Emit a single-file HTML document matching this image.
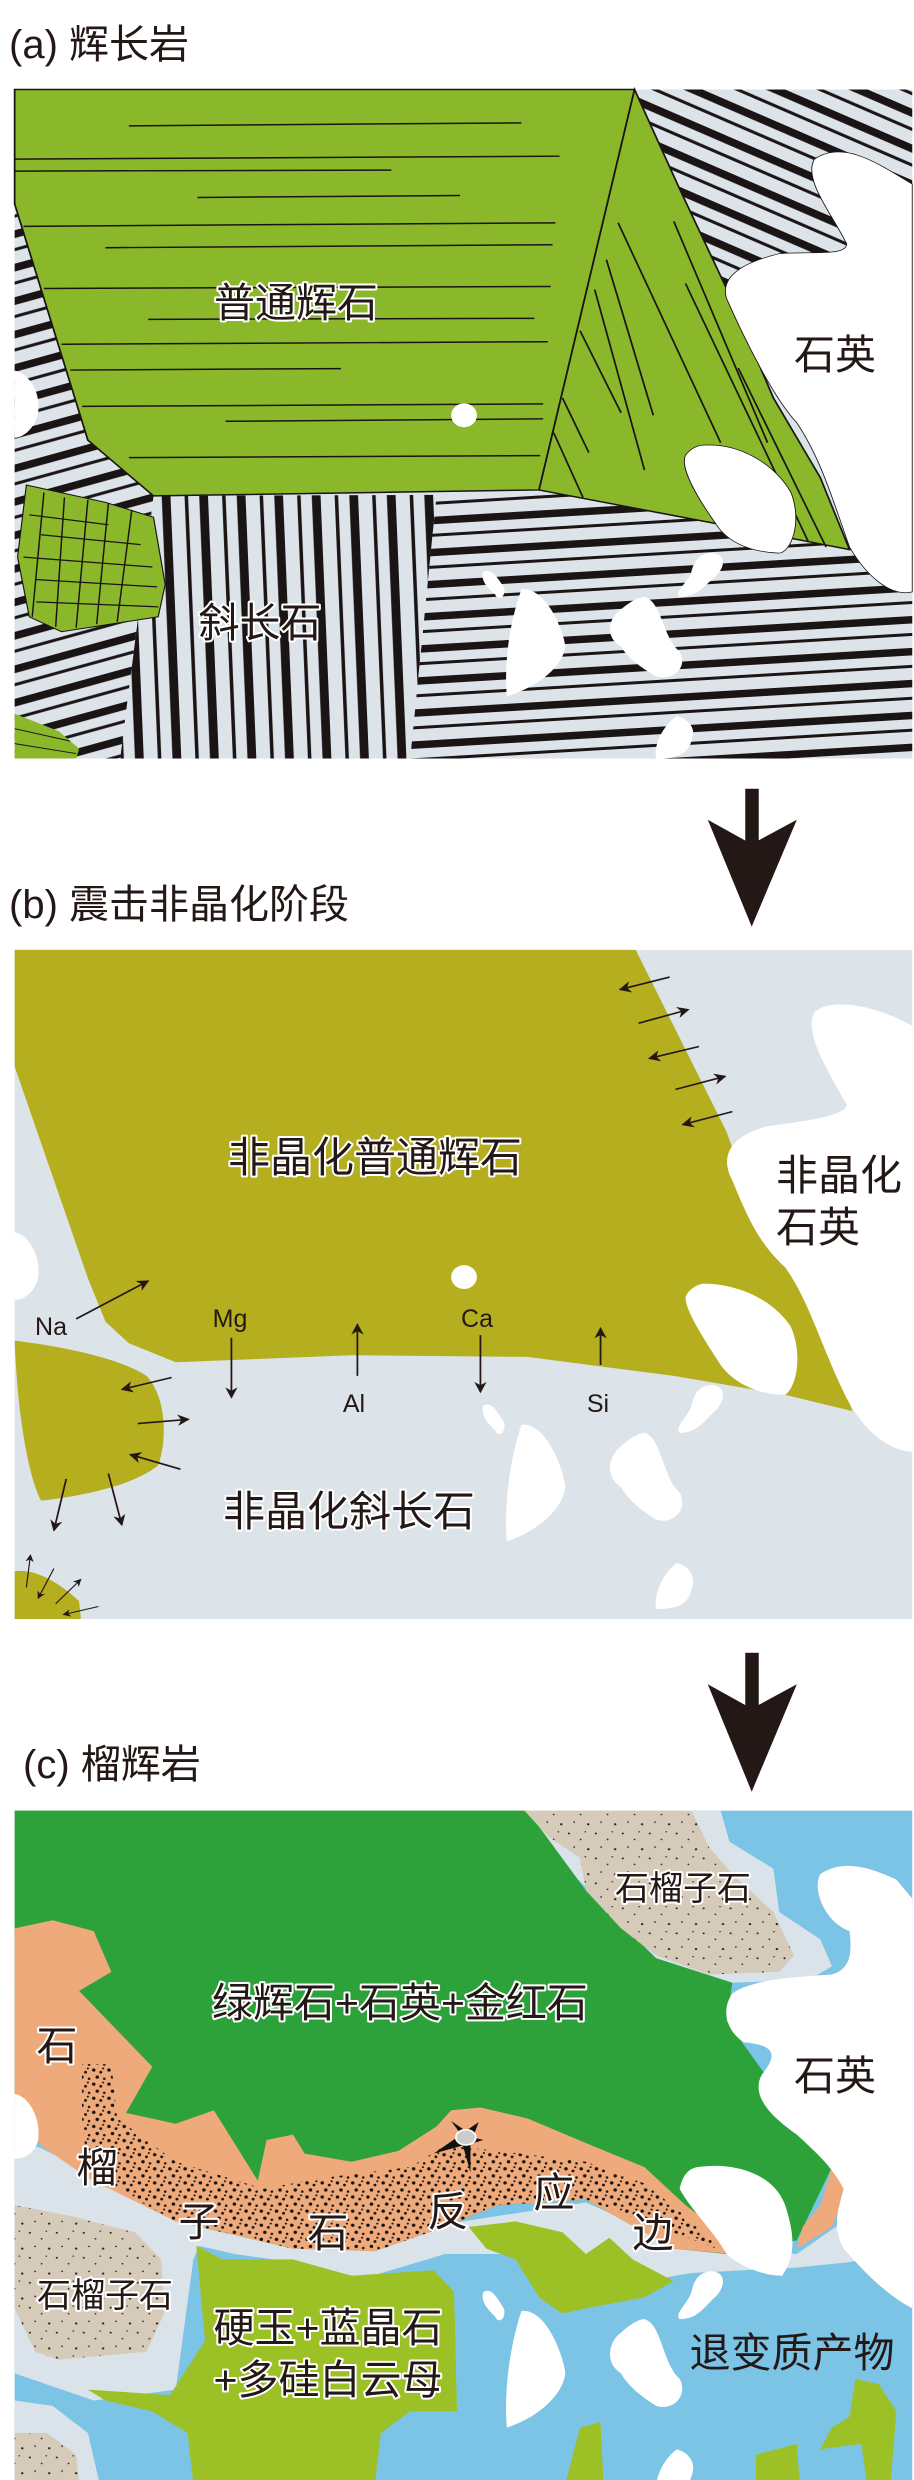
<!DOCTYPE html>
<html><head><meta charset="utf-8"><style>
html,body{margin:0;padding:0;background:#fff;}
svg{display:block;}
text{font-family:"Liberation Sans","Noto Sans CJK SC",sans-serif;fill:#231815;}
.h{stroke:#fff;stroke-width:4;paint-order:stroke;stroke-linejoin:round;}
</style></head><body>
<svg width="914" height="2480" viewBox="0 0 914 2480" xmlns="http://www.w3.org/2000/svg">
<defs>
<pattern id="st" patternUnits="userSpaceOnUse" width="200" height="64">
<rect width="200" height="64" fill="#dce4ea"/>
<rect y="0" width="200" height="15" fill="#1a1414"/>
<rect y="34" width="200" height="6" fill="#1a1414"/>
</pattern>
<pattern id="s1" href="#st" patternTransform="rotate(27)"/>
<pattern id="s2" href="#st" patternTransform="rotate(-4)"/>
<pattern id="s3" href="#st" patternTransform="rotate(88)"/>
<pattern id="s4" href="#st" patternTransform="rotate(-18)"/>
<pattern id="gd" patternUnits="userSpaceOnUse" width="46" height="46">
<circle cx="5" cy="7" r="1.8" fill="#222"/><circle cx="25" cy="18" r="1.5" fill="#222"/><circle cx="38" cy="36" r="2" fill="#222"/><circle cx="14" cy="32" r="1.5" fill="#222"/><circle cx="33" cy="4" r="1.3" fill="#222"/>
</pattern>
<pattern id="bd" patternUnits="userSpaceOnUse" width="26" height="26">
<circle cx="4" cy="5" r="3" fill="#111"/><circle cx="16" cy="9" r="2.5" fill="#111"/><circle cx="10" cy="18" r="3" fill="#111"/><circle cx="22" cy="21" r="2.2" fill="#111"/><circle cx="20" cy="2" r="1.8" fill="#111"/>
</pattern>
<marker id="ar" viewBox="0 0 10 10" refX="9" refY="5" markerWidth="7" markerHeight="7" orient="auto"><path d="M0,0 L10,5 L0,10 L3,5Z" fill="#231815"/></marker>
<g id="blobs">
<path d="M825,1150 C840,1140 850,1165 860,1180 C865,1200 850,1210 845,1195 C830,1180 820,1165 825,1150Z" fill="#fff"/>
<path d="M890,1185 C930,1180 960,1260 965,1300 C960,1340 920,1380 865,1400 C860,1330 870,1250 890,1185Z" fill="#fff"/>
<path d="M1100,1200 C1130,1210 1130,1280 1160,1310 C1175,1340 1150,1370 1120,1360 C1090,1340 1070,1320 1060,1300 C1030,1280 1040,1240 1060,1225 C1075,1210 1090,1200 1100,1200Z" fill="#fff"/>
<path d="M1210,1112 C1240,1110 1240,1140 1220,1160 C1200,1180 1190,1200 1160,1200 C1150,1190 1175,1170 1180,1150 C1185,1125 1195,1115 1210,1112Z" fill="#fff"/>
<path d="M1155,1440 C1175,1445 1190,1465 1180,1490 C1175,1510 1165,1525 1120,1525 C1115,1500 1130,1460 1155,1440Z" fill="#fff"/>
</g>
</defs>

<!-- PANEL A shapes -->
<g transform="scale(0.5859,0.4974)">
<rect x="25" y="180" width="1532" height="1345" fill="#dce4ea"/>
<polygon points="1083,180 1557,180 1557,600 1240,600 1160,380" fill="url(#s1)"/>
<polygon points="745,995 920,985 1210,1050 1450,1105 1557,1190 1557,1525 700,1525" fill="url(#s2)"/>
<polygon points="262,997 745,995 700,1525 205,1525" fill="url(#s3)"/>
<polygon points="25,410 150,885 262,997 205,1525 25,1525" fill="url(#s4)"/>
<polygon points="25,180 1083,180 920,985 262,997 150,885 25,410" fill="#8ab82a" stroke="#1a1414" stroke-width="3"/>
<polygon points="1083,180 1160,380 1240,580 1320,800 1400,960 1450,1105 1210,1050 920,985" fill="#8ab82a" stroke="#1a1414" stroke-width="3"/>
<g stroke="#1a1414" stroke-width="3">
<line x1="220" y1="253" x2="890" y2="247"/><line x1="25" y1="320" x2="955" y2="314"/><line x1="25" y1="344" x2="668" y2="342"/>
<line x1="337" y1="397" x2="785" y2="393"/><line x1="40" y1="455" x2="948" y2="448"/><line x1="180" y1="498" x2="943" y2="492"/>
<line x1="75" y1="580" x2="940" y2="576"/><line x1="253" y1="642" x2="912" y2="640"/><line x1="105" y1="692" x2="935" y2="687"/>
<line x1="120" y1="744" x2="582" y2="741"/><line x1="140" y1="817" x2="927" y2="812"/><line x1="385" y1="847" x2="927" y2="842"/>
<line x1="220" y1="920" x2="922" y2="916"/>
<line x1="1055" y1="448" x2="1230" y2="890"/><line x1="1035" y1="522" x2="1115" y2="835"/><line x1="1015" y1="582" x2="1100" y2="945"/>
<line x1="990" y1="665" x2="1060" y2="830"/><line x1="960" y1="800" x2="1005" y2="910"/><line x1="945" y1="870" x2="995" y2="1000"/>
<line x1="1150" y1="445" x2="1310" y2="890"/><line x1="1170" y1="570" x2="1380" y2="1090"/><line x1="1260" y1="740" x2="1410" y2="1100"/>
</g>
<path d="M1557,370 C1500,330 1440,280 1390,320 C1370,360 1420,430 1445,490 C1445,515 1390,505 1330,510 C1260,530 1230,560 1240,600 C1270,680 1320,800 1360,850 C1400,920 1420,1000 1450,1100 C1480,1160 1520,1200 1557,1190 Z" fill="#fff" stroke="#1a1414" stroke-width="1.5"/>
<path d="M1200,895 C1260,890 1320,930 1350,990 C1370,1050 1350,1110 1330,1112 C1280,1110 1240,1090 1220,1050 C1190,1000 1160,940 1170,915 C1180,900 1190,896 1200,895Z" fill="#fff" stroke="#1a1414" stroke-width="1.5"/>
<ellipse cx="792" cy="835" rx="22" ry="24" fill="#fff"/>
<path d="M25,745 C50,750 70,790 65,830 C60,860 40,880 25,880Z" fill="#fff"/>
<use href="#blobs"/>
<polygon points="45,975 180,1010 262,1040 282,1175 270,1240 105,1270 50,1240 30,1120" fill="#8ab82a" stroke="#1a1414" stroke-width="2"/>
<g stroke="#1a1414" stroke-width="2.5">
<line x1="50" y1="1035" x2="185" y2="1055"/><line x1="70" y1="1075" x2="240" y2="1095"/><line x1="40" y1="1120" x2="260" y2="1140"/><line x1="60" y1="1165" x2="268" y2="1180"/><line x1="62" y1="1210" x2="270" y2="1220"/>
<line x1="75" y1="990" x2="55" y2="1240"/><line x1="110" y1="1000" x2="95" y2="1260"/><line x1="150" y1="1005" x2="130" y2="1262"/><line x1="185" y1="1012" x2="165" y2="1255"/><line x1="225" y1="1025" x2="200" y2="1250"/>
</g>
<polygon points="25,1435 100,1470 135,1505 130,1525 25,1525" fill="#8ab82a"/>
<g stroke="#1a1414" stroke-width="2"><line x1="25" y1="1465" x2="120" y2="1490"/><line x1="25" y1="1495" x2="130" y2="1515"/></g>
</g>
<text x="9" y="58" font-size="40">(a) 辉长岩</text>
<text class="h" x="296" y="317" font-size="41" text-anchor="middle">普通辉石</text>
<text x="835" y="369" font-size="41" text-anchor="middle">石英</text>
<text class="h" x="260" y="637" font-size="41" text-anchor="middle">斜长石</text>

<!-- PANEL B shapes + arrow 1 -->
<g transform="translate(0,779) scale(0.5859,0.5426)">
<rect x="1272" y="18" width="23" height="110" fill="#231815"/>
<polygon points="1208,75 1283,120 1360,75 1283,272" fill="#231815"/>
<rect x="25" y="315" width="1532" height="1233" fill="#dce4ea"/>
<polygon points="25,315 1085,315 1240,650 1290,800 1350,900 1400,1000 1455,1165 1340,1135 1150,1100 900,1065 600,1062 300,1075 220,1040 180,1000 150,920 25,530" fill="#b5ae1f"/>
<path d="M1557,455 C1500,420 1420,400 1390,430 C1370,470 1420,550 1445,600 C1445,620 1380,630 1310,640 C1240,660 1230,700 1250,740 C1280,820 1300,860 1340,900 C1380,960 1400,1040 1440,1130 C1470,1200 1520,1240 1557,1240Z" fill="#fff"/>
<path d="M1200,930 C1260,930 1320,960 1350,1010 C1370,1060 1360,1120 1340,1135 C1290,1135 1250,1110 1230,1080 C1200,1030 1170,980 1170,955 C1175,940 1190,932 1200,930Z" fill="#fff"/>
<ellipse cx="792" cy="918" rx="22" ry="22" fill="#fff"/>
<path d="M25,835 C50,840 70,880 65,920 C60,945 40,960 25,960Z" fill="#fff"/>
<use href="#blobs" transform="translate(0,5)"/>
<path d="M25,1035 C100,1045 200,1065 250,1100 C285,1140 285,1220 270,1265 C230,1300 150,1320 70,1330 C50,1290 30,1180 25,1035Z" fill="#b5ae1f"/>
<path d="M25,1460 C60,1455 100,1480 135,1515 L138,1548 L25,1548Z" fill="#b5ae1f"/>
<g stroke="#231815" stroke-width="3" marker-end="url(#ar)">
<line x1="1143" y1="365" x2="1058" y2="388"/><line x1="1090" y1="450" x2="1175" y2="425"/><line x1="1193" y1="493" x2="1108" y2="515"/>
<line x1="1153" y1="572" x2="1238" y2="548"/><line x1="1250" y1="613" x2="1165" y2="637"/>
<line x1="130" y1="995" x2="253" y2="925"/><line x1="395" y1="1030" x2="395" y2="1140"/><line x1="610" y1="1100" x2="610" y2="1005"/>
<line x1="820" y1="1025" x2="820" y2="1130"/><line x1="1025" y1="1080" x2="1025" y2="1012"/>
<line x1="293" y1="1103" x2="208" y2="1125"/><line x1="235" y1="1188" x2="322" y2="1180"/><line x1="308" y1="1272" x2="222" y2="1245"/>
<line x1="113" y1="1290" x2="92" y2="1385"/><line x1="185" y1="1280" x2="208" y2="1375"/>
</g>
<g stroke="#231815" stroke-width="2" marker-end="url(#ar)">
<line x1="45" y1="1490" x2="52" y2="1430"/><line x1="92" y1="1455" x2="65" y2="1510"/><line x1="95" y1="1520" x2="138" y2="1475"/><line x1="168" y1="1525" x2="108" y2="1540"/>
</g>
</g>
<text x="9" y="918" font-size="40">(b) 震击非晶化阶段</text>
<g font-size="25" text-anchor="middle">
<text x="51" y="1335">Na</text><text x="230" y="1327">Mg</text><text x="354" y="1412">Al</text>
<text x="477" y="1327">Ca</text><text x="598" y="1412">Si</text>
</g>
<text class="h" x="375" y="1172" font-size="42" text-anchor="middle">非晶化普通辉石</text>
<text x="776" y="1190" font-size="42">非晶化</text>
<text x="776" y="1242" font-size="42">石英</text>
<text class="h" x="349" y="1526" font-size="42" text-anchor="middle">非晶化斜长石</text>

<!-- PANEL C shapes + arrow 2 -->
<g transform="translate(0,1630) scale(0.5859,0.5426)">
<rect x="1272" y="42" width="23" height="110" fill="#231815"/>
<polygon points="1208,100 1283,145 1360,100 1283,298" fill="#231815"/>
<rect x="25" y="333" width="1532" height="1240" fill="#7cc4e6"/>
<polygon points="25,940 70,955 300,1080 500,1140 640,1145 760,1095 1000,1055 1180,1140 1360,1150 1440,1090 1557,1100 1557,1140 1450,1165 1360,1175 1180,1185 1100,1200 980,1150 840,1150 760,1150 620,1195 500,1165 400,1150 340,1135 330,1160 300,1400 160,1420 25,1370" fill="#d9e3e9"/>
<polygon points="25,1420 90,1430 150,1480 170,1573 25,1573" fill="#d9e3e9"/>
<polygon points="870,333 1230,333 1245,390 1320,440 1330,520 1400,570 1420,620 1380,645 1250,650 1120,605" fill="#d9e3e9"/>
<polygon points="25,333 900,333 1000,480 1120,605 1250,650 1240,720 1420,990 1360,1125 1240,1150 1150,1140 1000,1050 850,1060 760,1100 500,1140 300,1090 25,860" fill="#2ea23a"/>
<polygon points="895,333 1180,333 1210,400 1250,450 1320,520 1355,600 1330,630 1210,635 1120,600 1060,550 1000,480 990,420 935,380" fill="#d6cab9"/>
<polygon points="895,333 1180,333 1210,400 1250,450 1320,520 1355,600 1330,630 1210,635 1120,600 1060,550 1000,480 990,420 935,380" fill="url(#gd)"/>
<polygon points="25,550 90,535 160,555 190,630 135,665 260,805 215,890 300,910 365,885 440,1015 455,940 500,930 520,965 600,980 680,960 745,915 770,885 820,880 900,900 1010,950 1100,990 1170,1060 1230,1110 1250,1150 1150,1140 1000,1050 850,1060 760,1100 640,1145 500,1140 300,1090 150,1010 70,950 25,870" fill="#eeaa7b"/>
<polygon points="1420,990 1445,1030 1420,1100 1360,1140 1370,1100 1400,1060" fill="#eeaa7b"/>
<polygon points="140,800 190,800 200,900 300,980 450,1030 550,1010 700,990 760,950 850,960 1000,980 1100,1020 1170,1080 1235,1145 1000,1050 850,1060 760,1100 640,1145 500,1140 300,1090 150,1000 140,900" fill="url(#bd)"/>
<polygon points="25,1060 120,1080 230,1110 275,1160 280,1260 250,1330 100,1345 60,1330 25,1250" fill="#d6cab9"/>
<polygon points="25,1060 120,1080 230,1110 275,1160 280,1260 250,1330 100,1345 60,1330 25,1250" fill="url(#gd)"/>
<polygon points="25,1480 80,1480 130,1520 135,1573 25,1573" fill="#d6cab9"/>
<polygon points="25,1480 80,1480 130,1520 135,1573 25,1573" fill="url(#gd)"/>
<polygon points="335,1135 380,1160 500,1160 600,1190 740,1180 775,1220 780,1440 700,1440 650,1480 640,1573 330,1573 320,1480 260,1440 180,1420 150,1400 290,1410 350,1310" fill="#9cc127"/>
<polygon points="800,1100 880,1090 960,1110 1000,1150 1040,1120 1080,1160 1150,1200 1100,1230 1000,1250 960,1260 920,1230 880,1160 830,1140" fill="#9cc127"/>
<polygon points="990,1470 1025,1460 1030,1573 965,1573" fill="#9cc127"/>
<polygon points="1290,1520 1360,1500 1365,1573 1290,1573" fill="#9cc127"/>
<polygon points="1460,1380 1500,1390 1530,1440 1520,1573 1480,1573 1470,1500 1400,1510 1420,1470 1450,1450" fill="#9cc127"/>
<path d="M1557,495 L1530,460 C1490,440 1440,420 1400,450 C1385,480 1410,540 1450,555 C1455,600 1450,625 1420,635 C1350,640 1280,645 1250,670 C1230,700 1240,740 1270,760 C1320,765 1330,780 1300,820 C1280,860 1320,900 1360,930 C1400,970 1420,990 1440,1030 C1430,1070 1420,1100 1440,1140 C1480,1190 1520,1230 1557,1250Z" fill="#fff"/>
<path d="M1190,990 C1250,980 1320,1000 1340,1060 C1355,1110 1360,1150 1335,1190 C1300,1190 1260,1170 1240,1150 C1220,1110 1180,1070 1160,1030 C1165,1005 1175,993 1190,990Z" fill="#fff"/>
<path d="M25,855 C50,860 70,900 65,940 C60,965 40,975 25,975Z" fill="#fff"/>
<use href="#blobs" transform="translate(0,70)"/>
<g transform="translate(795,935)">
<polygon points="-55,30 -8,-5 -25,-30 0,-12 22,-28 12,0 30,5 8,12 8,65 -5,15" fill="#111"/>
<ellipse cx="0" cy="0" rx="17" ry="14" fill="#ccc" stroke="#fff" stroke-width="3"/>
</g>
</g>
<text x="23" y="1778" font-size="40">(c) 榴辉岩</text>
<g font-size="41">
<text class="h" x="400" y="2017" text-anchor="middle">绿辉石+石英+金红石</text>
<text class="h" x="683" y="1900" font-size="34" text-anchor="middle">石榴子石</text>
<text x="835" y="2090" text-anchor="middle">石英</text>
<text class="h" x="105" y="2307" font-size="34" text-anchor="middle">石榴子石</text>
<text class="h" x="328" y="2342" text-anchor="middle">硬玉+蓝晶石</text>
<text class="h" x="328" y="2394" text-anchor="middle">+多硅白云母</text>
<text x="792" y="2367" text-anchor="middle">退变质产物</text>
<text class="h" x="57" y="2060" text-anchor="middle">石</text>
<text class="h" x="97" y="2182" text-anchor="middle">榴</text>
<text class="h" x="199" y="2236" text-anchor="middle">子</text>
<text class="h" x="328" y="2247" text-anchor="middle">石</text>
<text class="h" x="448" y="2226" text-anchor="middle">反</text>
<text class="h" x="554" y="2207" text-anchor="middle">应</text>
<text class="h" x="653" y="2247" text-anchor="middle">边</text>
</g>
</svg>
</body></html>
